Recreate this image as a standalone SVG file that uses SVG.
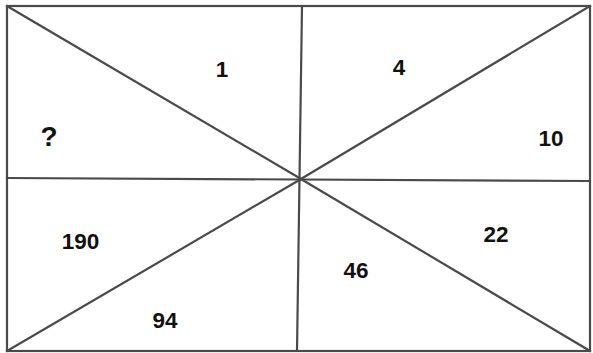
<svg xmlns="http://www.w3.org/2000/svg" width="593" height="353" viewBox="0 0 593 353">
<style>
.ln{stroke:#4a4a4a;stroke-width:2.2;fill:none;stroke-linecap:square}
.t{font-family:"Liberation Sans",Arial,sans-serif;font-weight:bold;font-size:22.5px;fill:#111;text-anchor:middle}
.q{font-size:28px}
</style>
<rect width="593" height="353" fill="#fff"/>
<g id="connectors">
<rect class="ln" x="7" y="6" width="583" height="345"/>
<line class="ln" x1="7" y1="6" x2="301" y2="179"/>
<line class="ln" x1="590" y1="6" x2="301" y2="179"/>
<line class="ln" x1="7" y1="351" x2="301" y2="179"/>
<line class="ln" x1="590" y1="351" x2="301" y2="179"/>
<line class="ln" x1="7" y1="178" x2="590" y2="181"/>
<line class="ln" x1="302" y1="6" x2="297" y2="351"/>
</g>
<g id="n1"><text class="t" x="222" y="77">1</text></g>
<g id="n4"><text class="t" x="399" y="75">4</text></g>
<g id="nq"><text class="t q" x="49" y="146">?</text></g>
<g id="n10"><text class="t" x="551" y="146">10</text></g>
<g id="n190"><text class="t" x="80.5" y="248.5">190</text></g>
<g id="n22"><text class="t" x="496" y="242">22</text></g>
<g id="n46"><text class="t" x="356" y="278">46</text></g>
<g id="n94"><text class="t" x="165" y="328">94</text></g>
</svg>
